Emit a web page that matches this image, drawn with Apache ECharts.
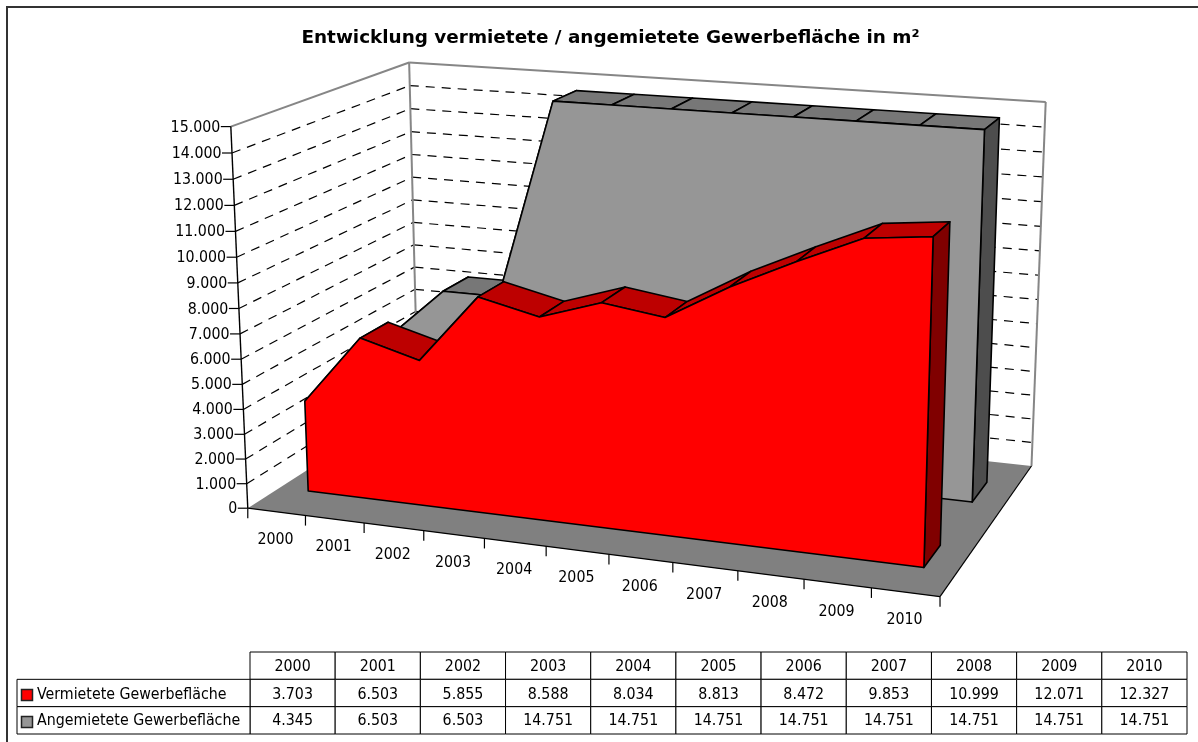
<!DOCTYPE html>
<html>
<head>
<meta charset="utf-8">
<style>
  html, body { margin: 0; padding: 0; background: #fff; overflow: hidden; }
  #chart { width: 1198px; height: 742px; }
</style>
<script src="https://cdn.jsdelivr.net/npm/echarts@6/dist/echarts.min.js"></script>
</head>
<body>
<div id="chart"></div>
<script>
const years = [2000, 2001, 2002, 2003, 2004, 2005, 2006, 2007, 2008, 2009, 2010]
const vermietet = [3703, 6503, 5855, 8588, 8034, 8813, 8472, 9853, 10999, 12071, 12327]
const angemietet = [4345, 6503, 6503, 14751, 14751, 14751, 14751, 14751, 14751, 14751, 14751]
const yTicks = [0, 1000, 2000, 3000, 4000, 5000, 6000, 7000, 8000, 9000, 10000, 11000, 12000, 13000, 14000, 15000]
const seriesNames = ["Vermietete Gewerbefläche", "Angemietete Gewerbefläche"]

const W = 1198, H = 742
const FONT = '"DejaVu Sans Condensed", "DejaVu Sans", sans-serif'
const labelFont = "15.8px " + FONT

// the box seen on the page: [x along years, height, depth] -> pixel
const boxPoints = [
  [0, 0, 0, 247.5, 507.7],
  [0, 1, 0, 231, 127],
  [0, 1, 1, 409, 62],
  [0, 0, 1, 418.2, 399.5],
  [1, 0, 0, 940.3, 597],
  [1, 0, 1, 1031.3, 465.7],
  [1, 1, 1, 1045.7, 102],
  [5 / 11, 0, 0, 546, 546.2],
]

function solve(A, b) {
  const n = b.length
  const m = A.map((row, i) => row.concat(b[i]))
  for (let c = 0; c < n; c++) {
    let best = c
    for (let r = c + 1; r < n; r++) if (Math.abs(m[r][c]) > Math.abs(m[best][c])) best = r
    ;[m[c], m[best]] = [m[best], m[c]]
    for (let r = 0; r < n; r++) {
      if (r === c) continue
      const f = m[r][c] / m[c][c]
      for (let k = c; k <= n; k++) m[r][k] -= f * m[c][k]
    }
  }
  return m.map((row, i) => row[n] / row[i])
}

function fitCamera() {
  const rows = [], rhs = []
  boxPoints.forEach(([X, Y, Z, px, py]) => {
    const x = px / 1000, y = py / 1000
    rows.push([X, Y, Z, 1, 0, 0, 0, 0, -x * X, -x * Y, -x * Z]); rhs.push(x)
    rows.push([0, 0, 0, 0, X, Y, Z, 1, -y * X, -y * Y, -y * Z]); rhs.push(y)
  })
  const ata = [], atb = []
  for (let i = 0; i < 11; i++) {
    ata.push([])
    for (let j = 0; j < 11; j++) ata[i].push(rows.reduce((s, r) => s + r[i] * r[j], 0))
    atb.push(rows.reduce((s, r, k) => s + r[i] * rhs[k], 0))
  }
  return solve(ata, atb)
}
const cam = fitCamera()

function project(X, Y, Z) {
  const w = cam[8] * X + cam[9] * Y + cam[10] * Z + 1
  return [
    1000 * (cam[0] * X + cam[1] * Y + cam[2] * Z + cam[3]) / w,
    1000 * (cam[4] * X + cam[5] * Y + cam[6] * Z + cam[7]) / w,
  ]
}

// goes through the hidden axes, then into the box
function toPage(api, x, value, depth) {
  const c = api.coord([x, value])
  return project(c[0] / W, 1 - c[1] / H, depth)
}

function fmt(v) {
  return String(v).replace(/\B(?=(\d{3})+$)/g, ".")
}

function poly(points, fill, stroke, lineWidth) {
  return { type: "polygon", shape: { points }, style: { fill, stroke: stroke || null, lineWidth: lineWidth || 1.6, lineJoin: "round" } }
}
function line(a, b, stroke, lineWidth, dash) {
  return { type: "line", shape: { x1: a[0], y1: a[1], x2: b[0], y2: b[1] }, style: { stroke, lineWidth: lineWidth || 1, lineDash: dash || null } }
}
function label(text, x, y, align, font) {
  return { type: "text", x, y, style: { text, fill: "#000", font: font || labelFont, align: align || "center", verticalAlign: "middle" } }
}

function renderBox(params, api) {
  if (params.dataIndex !== 0) return null
  const top = yTicks[yTicks.length - 1]
  const p = (x, v, d) => toPage(api, x, v, d)
  const xa = -0.5, xb = 10.5
  const children = [
    poly([p(xa, 0, 0), p(xb, 0, 0), p(xb, 0, 1), p(xa, 0, 1)], "#808080"),
  ]
  yTicks.forEach((t) => {
    if (t === 0 || t === top) return
    children.push(line(p(xa, t, 0), p(xa, t, 1), "#000", 1.2, [9, 7]))
    children.push(line(p(xa, t, 1), p(xb, t, 1), "#000", 1.2, [9, 7]))
  })
  children.push(line(p(xa, top, 0), p(xa, top, 1), "#868686", 2))
  children.push(line(p(xa, top, 1), p(xb, top, 1), "#868686", 2))
  children.push(line(p(xa, 0, 1), p(xa, top, 1), "#868686", 2))
  children.push(line(p(xb, 0, 1), p(xb, top, 1), "#868686", 2))
  children.push(line(p(xa, 0, 0), p(xa, top, 0), "#000", 1.4))
  children.push(line(p(xa, 0, 0), p(xb, 0, 0), "#000", 1.2))
  children.push(line(p(xb, 0, 0), p(xb, 0, 1), "#000", 1.2))
  yTicks.forEach((t) => {
    const a = p(xa, t, 0)
    children.push(line([a[0] - 10, a[1]], a, "#000", 1.2))
    children.push(label(fmt(t), a[0] - 10.5, a[1] + 1, "right"))
  })
  years.forEach((y, i) => {
    const a = p(i - 0.5, 0, 0)
    children.push(line(a, [a[0], a[1] + 10], "#000", 1.2))
    const c = p(i, 0, 0)
    children.push(label(String(y), c[0] - 1, c[1] + 28))
  })
  const end = p(xb, 0, 0)
  children.push(line(end, [end[0], end[1] + 10], "#000", 1.2))
  return { type: "group", children }
}

function areaRenderer(values, zFront, zBack, colors) {
  return function (params, api) {
    if (params.dataIndex !== 0) return null
    const fr = values.map((v, i) => toPage(api, i, v, zFront))
    const bk = values.map((v, i) => toPage(api, i, v, zBack))
    const last = values.length - 1
    const children = []
    for (let i = 0; i < last; i++) {
      children.push(poly([fr[i], fr[i + 1], bk[i + 1], bk[i]], colors.top, "#000"))
    }
    children.push(poly([fr[last], bk[last], toPage(api, last, 0, zBack), toPage(api, last, 0, zFront)], colors.side, "#000"))
    children.push(poly(fr.concat([toPage(api, last, 0, zFront), toPage(api, 0, 0, zFront)]), colors.front, "#000"))
    return { type: "group", children }
  }
}

function renderTable(params, api) {
  const col = api.value(0), row = api.value(1)
  const c = api.coord([col, row])
  const s = api.size([1, 1])
  const children = [
    { type: "rect", shape: { x: c[0] - s[0] / 2, y: c[1] - s[1] / 2, width: s[0], height: s[1] }, style: { fill: "#fff", stroke: "#000", lineWidth: 1 } },
    label(row === 0 ? String(years[col]) : fmt(api.value(2)), c[0], c[1] + (row === 1 ? 2 : 1)),
  ]
  return { type: "group", children }
}

function renderLegendCells(params, api) {
  const row = api.value(0)
  const c = api.coord([0, row])
  const s = api.size([1, 1])
  const x1 = c[0] - s[0] / 2, x0 = 17, y0 = c[1] - s[1] / 2
  const children = [
    { type: "rect", shape: { x: x0, y: y0, width: x1 - x0, height: s[1] }, style: { fill: "#fff", stroke: "#000", lineWidth: 1 } },
    { type: "rect", shape: { x: 21.5, y: Math.round(c[1]) - 3.5, width: 11, height: 11 }, style: { fill: row === 1 ? "#ff0000" : "#969696", stroke: "#222", lineWidth: 1.5 } },
    label(seriesNames[row - 1], 37, c[1] + (row === 1 ? 2 : 1), "left"),
  ]
  return { type: "group", children }
}

const tableData = years.map((y, i) => [i, 0, y])
  .concat(vermietet.map((v, i) => [i, 1, v]))
  .concat(angemietet.map((v, i) => [i, 2, v]))

const chart = echarts.init(document.getElementById("chart"))
const option = {
  animation: false,
  backgroundColor: "#fff",
  title: {
    text: "Entwicklung vermietete / angemietete Gewerbefläche in m²",
    left: 605.5, top: 24, textAlign: "center",
    textStyle: { fontFamily: "DejaVu Sans", fontWeight: "bold", fontSize: 18.4, color: "#000" },
  },
  graphic: [
    // frame runs off the picture on the right and at the bottom
    { type: "rect", shape: { x: 7, y: 7, width: 1300, height: 900 }, style: { fill: null, stroke: "#333", lineWidth: 2 }, silent: true },
  ],
  grid: [
    { left: 0, top: 0, width: W, height: H, show: false },
    { left: 250, top: 652, width: 937, height: 82, show: false },
  ],
  xAxis: [
    { type: "value", gridIndex: 0, min: -0.5, max: 10.5, show: false },
    { type: "category", gridIndex: 1, data: years, show: false },
  ],
  yAxis: [
    { type: "value", gridIndex: 0, min: 0, max: 15000, show: false },
    { type: "category", gridIndex: 1, data: ["", seriesNames[0], seriesNames[1]], inverse: true, show: false },
  ],
  series: [
    { type: "custom", name: "box", silent: true, clip: false, data: yTicks.map((t, i) => [i, t]), renderItem: renderBox },
    {
      type: "custom", name: seriesNames[1], silent: true, clip: false,
      data: angemietet.map((v, i) => [i, v]),
      renderItem: areaRenderer(angemietet, 0.665, 0.83, { front: "#969696", top: "#777777", side: "#4d4d4d" }),
    },
    {
      type: "custom", name: seriesNames[0], silent: true, clip: false,
      data: vermietet.map((v, i) => [i, v]),
      renderItem: areaRenderer(vermietet, 0.17, 0.33, { front: "#ff0000", top: "#bd0000", side: "#800000" }),
    },
    { type: "custom", name: "table", silent: true, xAxisIndex: 1, yAxisIndex: 1, clip: false, encode: { x: 0, y: 1 }, data: tableData, renderItem: renderTable },
    { type: "custom", name: "legend", silent: true, xAxisIndex: 1, yAxisIndex: 1, clip: false, encode: { y: 0 }, data: [[1], [2]], renderItem: renderLegendCells },
  ],
}
chart.setOption(option)
window.addEventListener("resize", () => { chart.resize() })
</script>
</body>
</html>
